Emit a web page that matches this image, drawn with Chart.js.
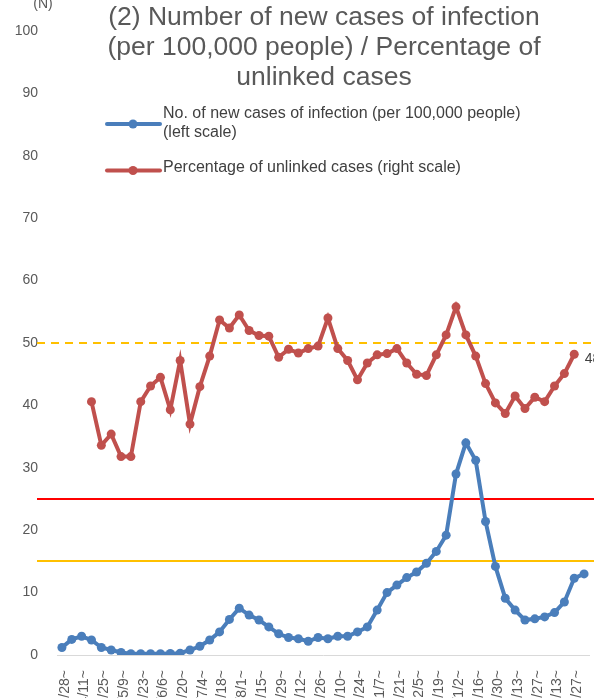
<!DOCTYPE html>
<html>
<head>
<meta charset="utf-8">
<script src="https://cdn.jsdelivr.net/npm/chart.js@4.4.0/dist/chart.umd.min.js"></script>
<style>
  html, body { margin: 0; padding: 0; overflow: hidden; background: #fff; }
  #wrap { width: 594px; height: 780px; }
</style>
</head>
<body>
<div id="wrap"><canvas id="trendChart" width="594" height="780"></canvas></div>
<script>
// weekly periods (week starting)
const weekLabels = [
  '2020/3/28~', '2020/4/4~', '2020/4/11~', '2020/4/18~', '2020/4/25~', '2020/5/2~',
  '2020/5/9~', '2020/5/16~', '2020/5/23~', '2020/5/30~', '2020/6/6~', '2020/6/13~',
  '2020/6/20~', '2020/6/27~', '2020/7/4~', '2020/7/11~', '2020/7/18~', '2020/7/25~',
  '2020/8/1~', '2020/8/8~', '2020/8/15~', '2020/8/22~', '2020/8/29~', '2020/9/5~',
  '2020/9/12~', '2020/9/19~', '2020/9/26~', '2020/10/3~', '2020/10/10~', '2020/10/17~',
  '2020/10/24~', '2020/10/31~', '2020/11/7~', '2020/11/14~', '2020/11/21~', '2020/11/28~',
  '2020/12/5~', '2020/12/12~', '2020/12/19~', '2020/12/26~', '2021/1/2~', '2021/1/9~',
  '2021/1/16~', '2021/1/23~', '2021/1/30~', '2021/2/6~', '2021/2/13~', '2021/2/20~',
  '2021/2/27~', '2021/3/6~', '2021/3/13~', '2021/3/20~', '2021/3/27~', '2021/4/3~'
];

// new cases per 100,000 people (left scale)
const newCasesPer100k = [
  1.2, 2.5, 3.0, 2.4, 1.2, 0.8, 0.4, 0.2, 0.2, 0.2, 0.2, 0.25,
  0.3, 0.8, 1.4, 2.4, 3.7, 5.7, 7.5, 6.4, 5.6, 4.5, 3.4, 2.8,
  2.6, 2.2, 2.8, 2.6, 3.0, 3.0, 3.7, 4.5, 7.2, 10.0, 11.2, 12.4,
  13.3, 14.7, 16.6, 19.2, 29.0, 34.0, 31.2, 21.4, 14.2, 9.1, 7.2, 5.6,
  5.8, 6.1, 6.8, 8.5, 12.3, 13.0
];

// percentage of unlinked cases (right scale)
const unlinkedPct = [
  null, null, null, 40.6, 33.6, 35.4, 31.8, 31.8, 40.6, 43.1, 44.5, 39.3,
  47.2, 37.0, 43.0, 47.9, 53.7, 52.4, 54.5, 52.0, 51.2, 51.1, 47.7, 49.0,
  48.4, 49.1, 49.5, 54.0, 49.1, 47.2, 44.1, 46.8, 48.1, 48.3, 49.1, 46.8,
  45.0, 44.8, 48.1, 51.3, 55.8, 51.3, 47.9, 43.5, 40.4, 38.7, 41.5, 39.5,
  41.3, 40.6, 43.1, 45.1, 48.2, null
];

const yTickValues = [0, 10, 20, 30, 40, 50, 60, 70, 80, 90, 100];
const caseThresholds = [25, 15];   // stage IV, stage III
const unlinkedThreshold = 50;

const titleLines = [
  '(2) Number of new cases of infection',
  '(per 100,000 people) / Percentage of',
  'unlinked cases'
];

const BLUE = '#4A7EBB';
const RED = '#C0504D';
const FONT = '"Liberation Sans", Arial, sans-serif';

// horizontal guide lines behind the series
const guideLines = {
  id: 'guideLines',
  beforeDatasetsDraw(chart) {
    const ctx = chart.ctx;
    const y = chart.scales.y;
    const y1 = chart.scales.y1;
    const x0 = 37, x1 = chart.width;
    ctx.save();
    ctx.lineWidth = 2;
    const colors = ['#FF0000', '#FFC000'];
    caseThresholds.forEach((v, i) => {
      const py = Math.round(y.getPixelForValue(v));
      ctx.strokeStyle = colors[i];
      ctx.beginPath();
      ctx.moveTo(x0, py);
      ctx.lineTo(x1, py);
      ctx.stroke();
    });
    const py = Math.round(y1.getPixelForValue(unlinkedThreshold));
    ctx.strokeStyle = '#FFC000';
    ctx.setLineDash([8, 6]);
    ctx.beginPath();
    ctx.moveTo(x0, py);
    ctx.lineTo(x1, py);
    ctx.stroke();
    ctx.restore();
  }
};

// title, legend, unit and last value label
const annotations = {
  id: 'annotations',
  afterDraw(chart) {
    const ctx = chart.ctx;
    ctx.save();

    ctx.fillStyle = '#595959';
    ctx.font = '26.5px ' + FONT;
    ctx.textAlign = 'center';
    ctx.textBaseline = 'middle';
    titleLines.forEach((t, i) => ctx.fillText(t, 324, 18 + i * 30));

    ctx.font = '14px ' + FONT;
    ctx.textBaseline = 'alphabetic';
    ctx.fillText('(N)', 43, 8);

    // legend
    const swatch = (color, y) => {
      ctx.strokeStyle = color;
      ctx.fillStyle = color;
      ctx.lineWidth = 4;
      ctx.lineCap = 'round';
      ctx.beginPath();
      ctx.moveTo(107, y);
      ctx.lineTo(160, y);
      ctx.stroke();
      ctx.beginPath();
      ctx.arc(133, y, 4.5, 0, Math.PI * 2);
      ctx.fill();
    };
    swatch(BLUE, 124);
    swatch(RED, 170.5);
    ctx.fillStyle = '#404040';
    ctx.font = '16px ' + FONT;
    ctx.textAlign = 'left';
    ctx.textBaseline = 'middle';
    ctx.fillText(chart.data.datasets[0].label, 163, 114);
    ctx.fillText('(left scale)', 163, 133);
    ctx.fillText(chart.data.datasets[1].label + ' (right scale)', 163, 168);

    // value label at the last unlinked point
    const meta = chart.getDatasetMeta(1);
    let last = -1;
    unlinkedPct.forEach((v, i) => { if (v !== null) last = i; });
    const pt = meta.data[last];
    ctx.font = '14px ' + FONT;
    ctx.textBaseline = 'alphabetic';
    ctx.fillText(unlinkedPct[last].toFixed(1), pt.x + 10.5, pt.y + 9);

    ctx.restore();
  }
};

new Chart(document.getElementById('trendChart').getContext('2d'), {
  type: 'line',
  data: {
    labels: weekLabels,
    datasets: [{
      label: 'No. of new cases of infection (per 100,000 people)',
      data: newCasesPer100k,
      yAxisID: 'y',
      borderColor: BLUE,
      backgroundColor: BLUE,
      borderWidth: 4,
      pointRadius: 4.5,
      pointBorderWidth: 0,
      tension: 0
    }, {
      label: 'Percentage of unlinked cases',
      data: unlinkedPct,
      yAxisID: 'y1',
      borderColor: RED,
      backgroundColor: RED,
      borderWidth: 4,
      pointRadius: 4.5,
      pointBorderWidth: 0,
      tension: 0
    }]
  },
  options: {
    responsive: false,
    animation: false,
    layout: { padding: { top: 31, left: 0, right: 5, bottom: 0 } },
    plugins: {
      legend: { display: false },
      tooltip: { enabled: false }
    },
    scales: {
      x: {
        offset: true,
        grid: { display: false, drawTicks: false },
        border: { display: true, color: '#D9D9D9', width: 1 },
        ticks: {
          autoSkip: false,
          minRotation: 90,
          maxRotation: 90,
          padding: 15,
          labelOffset: 3,
          color: '#595959',
          font: { size: 14, family: FONT },
          callback: function (val, idx) {
            return idx % 2 === 0 ? this.getLabelForValue(val) : '';
          }
        },
        afterFit: s => {
          s.height = 125;
          s.paddingLeft = 0;
          s.paddingRight = 0;
        }
      },
      y: {
        min: 0,
        max: 100,
        grid: { display: false, drawTicks: false },
        border: { display: false },
        ticks: {
          padding: 19,
          color: '#595959',
          font: { size: 14, family: FONT }
        },
        afterBuildTicks: s => { s.ticks = yTickValues.map(v => ({ value: v })); },
        afterFit: s => {
          s.width = 57;
          s.paddingTop = 0;
          s.paddingBottom = 0;
        }
      },
      y1: {
        display: false,
        position: 'right',
        min: 0,
        max: 100
      }
    }
  },
  plugins: [guideLines, annotations]
});
</script>
</body>
</html>
